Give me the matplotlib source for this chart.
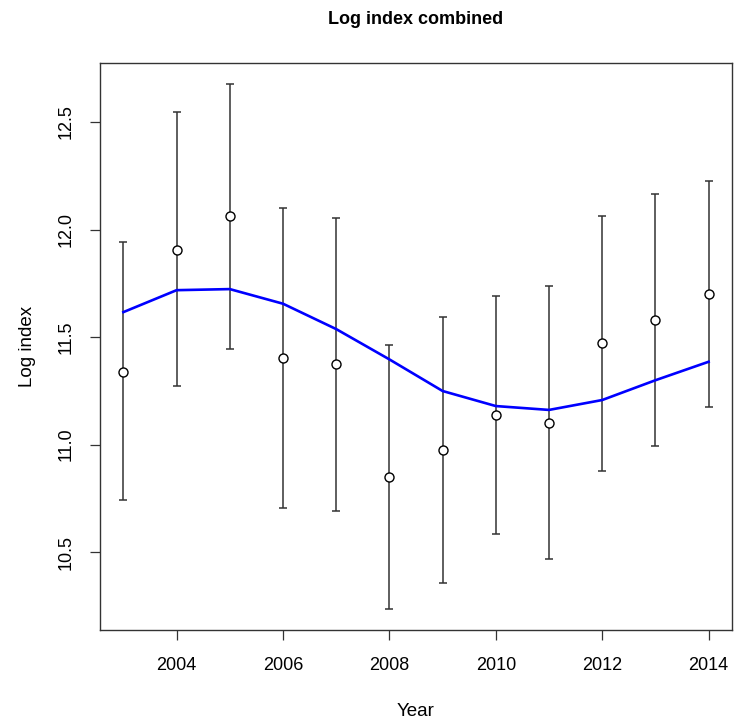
import matplotlib
matplotlib.use("Agg")
import matplotlib.pyplot as plt

plt.rcParams['font.family'] = ['Liberation Sans', 'DejaVu Sans']

# data
years = [2003, 2004, 2005, 2006, 2007, 2008, 2009, 2010, 2011, 2012, 2013, 2014]
log_index = [11.339, 11.907, 12.062, 11.401, 11.373, 10.851, 10.975, 11.136, 11.102, 11.472, 11.579, 11.701]
upper = [11.941, 12.547, 12.677, 12.099, 12.054, 11.463, 11.593, 11.689, 11.738, 12.065, 12.167, 12.228]
lower = [10.741, 11.272, 11.446, 10.704, 10.693, 10.235, 10.356, 10.582, 10.466, 10.877, 10.994, 11.175]
fitted = [11.616, 11.718, 11.723, 11.655, 11.537, 11.396, 11.249, 11.179, 11.161, 11.207, 11.299, 11.385]
xticks = [2004, 2006, 2008, 2010, 2012, 2014]
yticks = [10.5, 11.0, 11.5, 12.0, 12.5]

fig = plt.figure(figsize=(7.43, 7.21), dpi=100)
ax = fig.add_axes([100 / 743, 1 - 630 / 721, 632 / 743, 567 / 721])

err_lo = [v - l for v, l in zip(log_index, lower)]
err_hi = [u - v for v, u in zip(log_index, upper)]
ax.errorbar(years, log_index, yerr=[err_lo, err_hi], fmt='none',
            ecolor='#333333', elinewidth=1.1, capsize=2.7, capthick=1.1, zorder=2)
ax.plot(years, log_index, 'o', mfc='white', mec='black', mew=1.0, ms=6.5, zorder=3)
ax.plot(years, fitted, color='#0000ff', lw=1.9, zorder=4)

# R-style 4% padding on both axes
xr = years[-1] - years[0]
ax.set_xlim(years[0] - 0.04 * xr, years[-1] + 0.04 * xr)
ymin, ymax = min(lower), max(upper)
yr = ymax - ymin
ax.set_ylim(ymin - 0.04 * yr, ymax + 0.04 * yr)

ax.set_xticks(xticks)
ax.set_xticklabels([str(x) for x in xticks])
ax.set_yticks(yticks)
ax.set_yticklabels([f"{y:.1f}" for y in yticks], rotation=90, va='center')
ax.tick_params(direction='out', length=7.5, width=0.9, color='#333333',
               labelsize=13)
ax.tick_params(axis='x', pad=12)
ax.tick_params(axis='y', pad=11)
for s in ax.spines.values():
    s.set_color('#333333')
    s.set_linewidth(1.0)

ax.set_xlabel("Year", fontsize=13.5, labelpad=21)
ax.set_ylabel("Log index", fontsize=13.5, labelpad=15)
fig.text(416 / 743, 1 - 19 / 721, "Log index combined", ha='center', va='center',
         fontsize=13, fontweight='bold')

fig.savefig("out.png", dpi=100)
